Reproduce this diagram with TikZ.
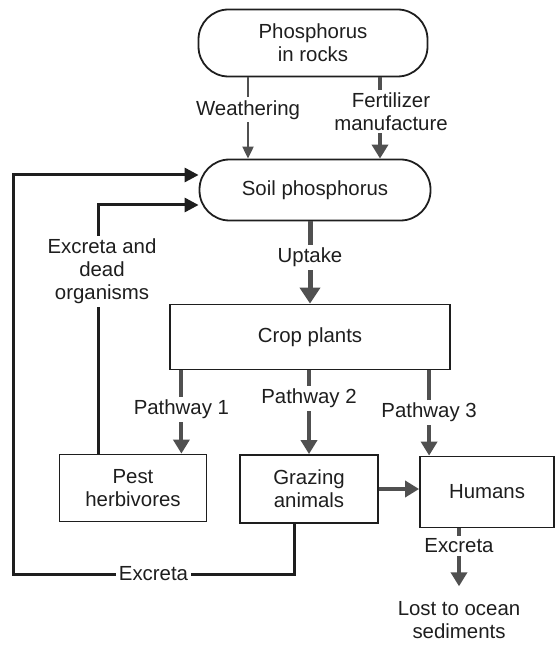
\documentclass[tikz,border=0pt]{standalone}
\usepackage{fontspec}
\setmainfont{Liberation Sans}
\usetikzlibrary{arrows.meta,positioning}
\definecolor{flowgray}{RGB}{80,80,80}
\definecolor{boxline}{RGB}{30,30,30}

\begin{document}
\begin{tikzpicture}[x=0.5pt, y=-0.5pt,
  every node/.style={font=\fontsize{10.2}{11.5}\selectfont, text=boxline},
  pool/.style={draw=boxline, line width=0.9pt, rounded corners=15pt,
               align=center},
  stock/.style={draw=boxline, line width=0.9pt, align=center},
  lbl/.style={fill=white, inner sep=1.5pt, align=center},
  flow/.style={-{Triangle[width=8pt, length=7pt]}, line width=2pt, flowgray},
  bigflow/.style={-{Triangle[width=10pt, length=8pt]}, line width=2.5pt, flowgray},
  thinflow/.style={-{Triangle[width=5.5pt, length=6pt]}, line width=1pt, flowgray},
  loopflow/.style={-{Triangle[width=7pt, length=7pt]}, line width=1.5pt, boxline},
]
\useasboundingbox (0,0) rectangle (555,646);

%% -- Pools -----------------------------------------------------------------
\node[pool, minimum width=114.5pt, minimum height=33.5pt]
  (rocks) at (313,43) {Phosphorus\\in rocks};
\node[pool, minimum width=115.5pt, minimum height=30.5pt]
  (soil) at (315,190) {Soil phosphorus};
\node[stock, minimum width=140pt, minimum height=32.5pt]
  (crop) at (310,337) {Crop plants};
\node[stock, minimum width=73.5pt, minimum height=33.5pt]
  (pest) at (133,488) {Pest\\herbivores};
\node[stock, minimum width=69pt, minimum height=34pt]
  (graze) at (309,489) {Grazing\\animals};
\node[stock, minimum width=67pt, minimum height=35.5pt]
  (humans) at (487,492) {Humans};
\node[align=center] (ocean) at (459,620) {Lost to ocean\\sediments};
\coordinate (low) at (13,574);

%% -- Inputs to soil --------------------------------------------------------
\draw[thinflow] ([xshift=-32.5pt]rocks.south)
  -- ([xshift=-32.5pt]rocks.south |- soil.north)
  node[lbl, pos=0.4] {Weathering};
\draw[flow] ([xshift=33.5pt]rocks.south)
  -- ([xshift=33.5pt]rocks.south |- soil.north)
  node[lbl, pos=0.42, xshift=5.5pt] {Fertilizer\\manufacture};

%% -- Uptake and pathways ---------------------------------------------------
\draw[bigflow] (soil.south -| crop.north) -- (crop.north)
  node[lbl, pos=0.44] {Uptake};
\draw[flow] (crop.south -| pest.north east) ++(-13pt,0)
  -- ([xshift=-13pt]pest.north east)
  node[lbl, pos=0.47] {Pathway 1};
\draw[flow] (crop.south -| graze.north) -- (graze.north)
  node[lbl, pos=0.33] {Pathway 2};
\draw[flow] (crop.south -| humans.north west) ++(5pt,0)
  -- ([xshift=5pt]humans.north west)
  node[lbl, pos=0.49] {Pathway 3};
\draw[flow] (graze.east) -- (graze.east -| humans.west);

%% -- Losses ----------------------------------------------------------------
\draw[flow] (humans.south -| ocean.north) -- ([yshift=4pt]ocean.north)
  node[lbl, pos=0.3] {Excreta};

%% -- Return loops ----------------------------------------------------------
\draw[loopflow] ([xshift=-17.5pt]pest.north)
  |- ([yshift=-7.5pt]soil.west)
  node[lbl, pos=0.366, xshift=2pt] {Excreta and\\dead\\organisms};
\draw[loopflow] ([xshift=-7.5pt]graze.south)
  |- (low) node[lbl, pos=0.75] {Excreta}
  |- ([yshift=7.5pt]soil.west);

\end{tikzpicture}
\end{document}
